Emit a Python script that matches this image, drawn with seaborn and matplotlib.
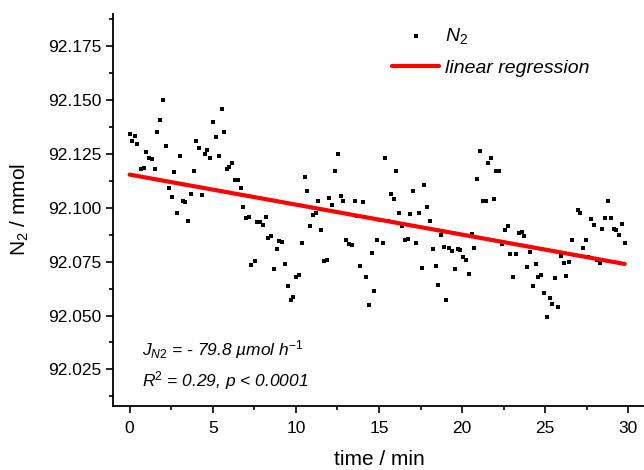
import matplotlib
matplotlib.use("Agg")
import matplotlib.pyplot as plt
from matplotlib.ticker import MultipleLocator, FormatStrFormatter
import numpy as np
import pandas as pd
import seaborn as sns

# N2 readings (time in min, N2 in mmol)
time_min = [
    0.00, 0.15, 0.32, 0.47, 0.69, 0.84, 0.99, 1.16, 1.33, 1.50,
    1.65, 1.83, 2.02, 2.17, 2.35, 2.52, 2.69, 2.86, 3.01, 3.19,
    3.36, 3.50, 3.68, 3.85, 4.00, 4.17, 4.35, 4.52, 4.67, 4.84,
    5.01, 5.19, 5.36, 5.53, 5.68, 5.83, 5.98, 6.17, 6.35, 6.49,
    6.67, 6.84, 7.01, 7.16, 7.33, 7.53, 7.68, 7.85, 8.02, 8.20,
    8.35, 8.49, 8.69, 8.86, 9.01, 9.19, 9.36, 9.53, 9.70, 9.85,
    10.02, 10.20, 10.37, 10.52, 10.69, 10.86, 11.04, 11.19, 11.36, 11.53,
    11.70, 11.85, 12.02, 12.20, 12.37, 12.52, 12.69, 12.86, 13.04, 13.19,
    13.36, 13.53, 13.70, 13.88, 14.05, 14.22, 14.40, 14.57, 14.72, 14.89,
    15.06, 15.23, 15.38, 15.56, 15.73, 15.88, 16.05, 16.22, 16.40, 16.54,
    16.72, 16.89, 17.06, 17.23, 17.38, 17.56, 17.73, 17.90, 18.07, 18.22,
    18.40, 18.57, 18.72, 18.89, 19.06, 19.23, 19.38, 19.56, 19.73, 19.90,
    20.07, 20.22, 20.40, 20.57, 20.74, 20.89, 21.06, 21.23, 21.41, 21.58,
    21.73, 21.90, 22.05, 22.22, 22.40, 22.57, 22.74, 22.89, 23.06, 23.23,
    23.41, 23.58, 23.73, 23.90, 24.07, 24.25, 24.42, 24.57, 24.74, 24.91,
    25.09, 25.26, 25.41, 25.58, 25.75, 25.93, 26.10, 26.25, 26.42, 26.59,
    26.77, 26.94, 27.09, 27.26, 27.43, 27.60, 27.78, 27.93, 28.10, 28.27,
    28.44, 28.62, 28.77, 28.94, 29.11, 29.26, 29.43, 29.60, 29.78,
]
n2_mmol = [
    92.1345, 92.1310, 92.1334, 92.1295, 92.1180, 92.1186, 92.1257, 92.1230, 92.1226, 92.1180,
    92.1350, 92.1410, 92.1500, 92.1286, 92.1090, 92.1050, 92.1165, 92.0977, 92.1240, 92.1030,
    92.1025, 92.0937, 92.1065, 92.1170, 92.1310, 92.1280, 92.1060, 92.1250, 92.1270, 92.1230,
    92.1400, 92.1330, 92.1240, 92.1458, 92.1350, 92.1180, 92.1190, 92.1210, 92.1130, 92.1130,
    92.1090, 92.1003, 92.0954, 92.0958, 92.0734, 92.0754, 92.0935, 92.0934, 92.0920, 92.0958,
    92.0860, 92.0867, 92.0716, 92.0811, 92.0848, 92.0842, 92.0739, 92.0637, 92.0572, 92.0587,
    92.0681, 92.0690, 92.0836, 92.1144, 92.1080, 92.0917, 92.0966, 92.0978, 92.1030, 92.0896,
    92.0754, 92.0757, 92.1045, 92.1014, 92.1170, 92.1250, 92.1054, 92.1030, 92.0850, 92.0833,
    92.0828, 92.1034, 92.0964, 92.0732, 92.1026, 92.0677, 92.0550, 92.0790, 92.0615, 92.0853,
    92.0945, 92.0836, 92.1230, 92.0938, 92.1066, 92.1039, 92.1170, 92.0977, 92.0918, 92.0850,
    92.0856, 92.0970, 92.1079, 92.0836, 92.0974, 92.0723, 92.1108, 92.1005, 92.0937, 92.0807,
    92.0730, 92.0640, 92.0876, 92.0819, 92.0572, 92.0813, 92.0800, 92.0717, 92.0810, 92.0804,
    92.0771, 92.0759, 92.0695, 92.0880, 92.0814, 92.1133, 92.1266, 92.1030, 92.1031, 92.1210,
    92.1233, 92.1043, 92.1169, 92.1169, 92.0830, 92.0895, 92.0918, 92.0785, 92.0677, 92.0785,
    92.0881, 92.0886, 92.0869, 92.0726, 92.0797, 92.0638, 92.0737, 92.0681, 92.0690, 92.0603,
    92.0493, 92.0583, 92.0553, 92.0674, 92.0539, 92.0777, 92.0742, 92.0683, 92.0748, 92.0850,
    92.0779, 92.0992, 92.0974, 92.0813, 92.0850, 92.0773, 92.0949, 92.0920, 92.0757, 92.0745,
    92.0904, 92.0951, 92.1030, 92.0952, 92.0901, 92.0896, 92.0872, 92.0923, 92.0839,
]

flux_text = r"$J_{N2}$ = - 79.8 µmol h$^{-1}$"
fit_text = r"R$^2$ = 0.29, p < 0.0001"

sns.set_theme(style="ticks")
plt.rcParams["font.family"] = ["Liberation Sans", "DejaVu Sans"]
plt.rcParams["mathtext.fontset"] = "custom"
plt.rcParams["mathtext.rm"] = "Liberation Sans"
plt.rcParams["mathtext.it"] = "Liberation Sans:italic"
for key in ("text.color", "axes.labelcolor", "xtick.color", "ytick.color", "axes.edgecolor"):
    plt.rcParams[key] = "black"

df = pd.DataFrame({"time": time_min, "n2": n2_mmol})

# least-squares line over the measured range
slope, intercept = np.polyfit(df["time"], df["n2"], 1)
fit = pd.DataFrame({"time": [df["time"].min(), df["time"].max()]})
fit["n2"] = intercept + slope * fit["time"]

fig = plt.figure(figsize=(6.44, 4.70), dpi=100)
ax = fig.add_axes([113 / 644, 1 - 406 / 470, 532 / 644, 392 / 470])

sns.scatterplot(data=df, x="time", y="n2", ax=ax, color="black", marker="s",
                s=5, linewidth=0, label="$N_2$", zorder=2)
sns.lineplot(data=fit, x="time", y="n2", ax=ax, color="#ff0000", lw=3,
             label="linear regression", zorder=3)

ax.set_xlim(-1, 31)
ax.set_ylim(92.008, 92.19)
ax.xaxis.set_major_locator(MultipleLocator(5))
ax.xaxis.set_minor_locator(MultipleLocator(2.5))
ax.yaxis.set_major_locator(MultipleLocator(0.025))
ax.yaxis.set_minor_locator(MultipleLocator(0.0125))
ax.yaxis.set_major_formatter(FormatStrFormatter("%.3f"))
ax.tick_params(which="major", length=5, width=1.2, labelsize=12.5)
ax.tick_params(which="minor", length=2.8, width=1.2)
ax.tick_params(axis="x", pad=6)
for side in ("left", "bottom"):
    ax.spines[side].set_linewidth(1.3)
sns.despine(ax=ax)

ax.set_xlabel("time / min", fontsize=15, labelpad=10)
ax.set_ylabel(r"N$_\mathregular{2}$ / mmol", fontsize=15, labelpad=12)

ax.text(0.054, 0.143, flux_text, transform=ax.transAxes, fontsize=12.5,
        style="italic", va="center")
ax.text(0.054, 0.064, fit_text, transform=ax.transAxes, fontsize=12.5,
        style="italic", va="center")

ax.legend(loc="upper left", bbox_to_anchor=(0.492, 1.015), frameon=False,
          prop={"size": 14, "style": "italic"}, handlelength=2.4,
          handletextpad=0.3, labelspacing=0.7)

fig.savefig("out.png", dpi=100)
